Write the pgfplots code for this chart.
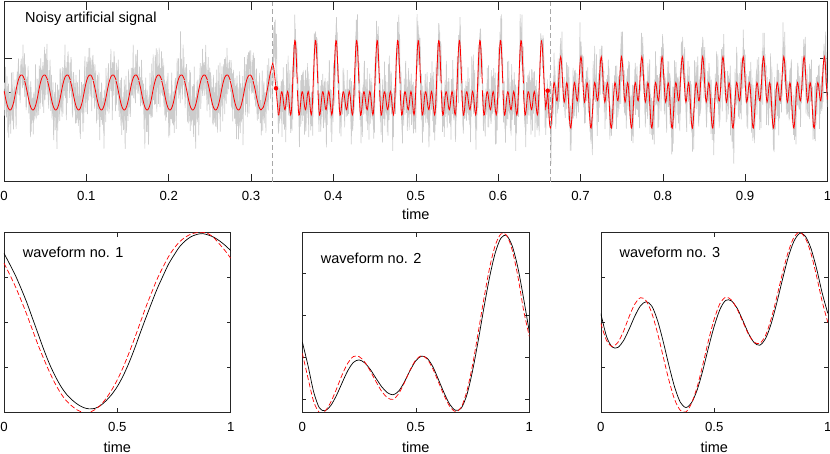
\documentclass[border=0pt]{standalone}
\usepackage{fontspec}
\setmainfont{Liberation Sans}
\usepackage{pgfplots}
\usepackage{pgfplotstable}
\pgfplotsset{compat=1.18}

\pgfplotstableread{
u     b1    r1    b2    r2    b3    r3    n1   n2   n3   n4
0.000 3.54  3.32  1.67  1.40  2.20  1.98   5   -9   12   -3
0.025 3.30  3.07  1.11  0.81  1.69  1.60  -12  14   -5   20
0.050 3.05  2.80  0.48  0.25  1.45  1.46   8   -4  -21  -11
0.075 2.76  2.50  0.10 -0.01  1.44  1.55  17  -18    6    2
0.100 2.45  2.18  0.03  0.02  1.59  1.80  -3   10   15  -24
0.125 2.10  1.84  0.15  0.23  1.85  2.13  -20   3  -10   16
0.150 1.75  1.50  0.39  0.54  2.14  2.41   9   24   -1    7
0.175 1.40  1.19  0.69  0.88  2.37  2.55   2  -13   19   -6
0.200 1.08  0.90  0.98  1.16  2.46  2.48  -14   7  -16   11
0.225 0.81  0.64  1.18  1.32  2.36  2.20  22   -2    8  -17
0.250 0.58  0.42  1.24  1.32  2.04  1.76  -6  -27    3   25
0.275 0.40  0.25  1.17  1.19  1.57  1.23  11   16  -28   -2
0.300 0.27  0.13  1.01  0.97  1.04  0.71  -25   5   13   -9
0.325 0.17  0.04  0.80  0.72  0.56  0.28   4  -10   -7   18
0.350 0.10 -0.01  0.60  0.49  0.22  0.04  13    9   22  -14
0.375 0.07 -0.01  0.46  0.34  0.10  0.00  -8  -21    0    6
0.400 0.08  0.05  0.41  0.30  0.21  0.20   0   13  -12   33
0.425 0.14  0.15  0.50  0.44  0.50  0.57  30   -6    9  -20
0.450 0.25  0.30  0.72  0.70  0.94  1.07  -11   2  -19   10
0.475 0.39  0.49  0.99  1.00  1.45  1.61   6   35   14   -5
0.500 0.57  0.72  1.22  1.24  1.92  2.08  -17 -12    4   -1
0.525 0.80  0.99  1.33  1.34  2.29  2.42  10   -3   -9   15
0.550 1.08  1.30  1.28  1.26  2.49  2.56  -2   18   27  -26
0.575 1.40  1.63  1.08  1.03  2.48  2.50  15  -15   -4    8
0.600 1.75  1.98  0.77  0.71  2.32  2.30  -9    6  -14  -10
0.625 2.09  2.33  0.45  0.39  2.05  2.02  -31  11   10   21
0.650 2.42  2.65  0.18  0.13  1.76  1.74   7   -8   18   -4
0.675 2.74  2.96  0.04  0.01  1.55  1.56  12  -19  -23    3
0.700 3.02  3.22  0.09  0.11  1.49  1.53  -5   21    2  -13
0.725 3.29  3.46  0.41  0.50  1.63  1.70  19   -1   -8   12
0.750 3.50  3.65  0.98  1.12  1.96  2.07  -13   8   16  -29
0.775 3.69  3.80  1.70  1.90  2.43  2.56   3  -24   -3   17
0.800 3.82  3.90  2.48  2.70  2.95  3.09  -22  12    7    1
0.825 3.91  3.97  3.21  3.43  3.44  3.56   8    4  -37   -7
0.850 3.96  4.00  3.79  3.97  3.80  3.89  14  -11   11   23
0.875 3.98  4.01  4.14  4.24  3.98  4.01  -4   17  -13  -16
0.900 3.95  3.98  4.20  4.21  3.93  3.89  -10  -5   20    6
0.925 3.90  3.89  3.95  3.85  3.66  3.55  26  -16    5  -11
0.950 3.82  3.75  3.43  3.22  3.21  3.04  -7    9   -6   14
0.975 3.72  3.60  2.70  2.42  2.66  2.47   1   28  -17   -3
1.000 3.60  3.43  1.91  1.80  2.20  2.00  -15  -7   13    9
}\wave

\definecolor{noisegray}{gray}{0.80}
\definecolor{axgray}{gray}{0.15}
\definecolor{dashgray}{gray}{0.66}

\pgfplotsset{
  mystyle/.style={
    scale only axis,
    axis line style={axgray, line width=0.5pt},
    every tick/.style={axgray, line width=0.5pt},
    tick align=inside,
    xmin=0, xmax=1,
    /pgf/number format/assume math mode=true,
    tick label style={font=\fontsize{13.2}{15}\selectfont},
    label style={font=\fontsize{14.5}{17}\selectfont},
    yticklabel={\phantom{0}},
    clip=true,
  },
  gsig/.style={color=noisegray, line width=0.65pt, mark=none},
  rsig/.style={color=red, line width=0.8pt, mark=none},
}

% segment 1: t0=-0.0026, T=0.02773, a=71.8, s=8.71
\newcommand\GA[3]{%
\addplot[gsig, restrict x to domain=0:0.3252] table[x expr={-0.0026+(#1+\thisrow{u})*0.02773}, y expr={71.8+8.71*\thisrow{b1}+1.2*(#2)}]{\wave};
\addplot[gsig, restrict x to domain=0:0.3252] table[x expr={-0.0026+(#1+\thisrow{u}+0.0125)*0.02773}, y expr={71.8+8.71*\thisrow{b1}+1.2*(#3)}]{\wave};}
\newcommand\RA[1]{\addplot[rsig, restrict x to domain=0:0.3124] table[x expr={-0.0026+(#1+\thisrow{u})*0.02773}, y expr={71.8+8.71*\thisrow{r1}}]{\wave};}
% segment 2: t0=0.33128, T=0.02496, a=66.7, s=17.56
\newcommand\GB[3]{%
\addplot[gsig, restrict x to domain=0.3252:0.6635] table[x expr={0.33128+(#1+\thisrow{u})*0.02496}, y expr={66.7+17.56*\thisrow{b2}+1.2*(#2)}]{\wave};
\addplot[gsig, restrict x to domain=0.3252:0.6635] table[x expr={0.33128+(#1+\thisrow{u}+0.0125)*0.02496}, y expr={66.7+17.56*\thisrow{b2}+1.2*(#3)}]{\wave};}
\newcommand\RB[1]{\addplot[rsig, restrict x to domain=0.3326:0.6530] table[x expr={0.33128+(#1+\thisrow{u})*0.02496}, y expr={66.7+17.56*\thisrow{r2}}]{\wave};}
% segment 3: t0=0.65443, T=0.02463, a=53.6, s=17.8
\newcommand\GC[3]{%
\addplot[gsig, restrict x to domain=0.6635:1] table[x expr={0.65443+(#1+\thisrow{u})*0.02463}, y expr={53.6+17.8*\thisrow{b3}+1.2*(#2)}]{\wave};
\addplot[gsig, restrict x to domain=0.6635:1] table[x expr={0.65443+(#1+\thisrow{u}+0.0125)*0.02463}, y expr={53.6+17.8*\thisrow{b3}+1.2*(#3)}]{\wave};}
\newcommand\RC[1]{\addplot[rsig, restrict x to domain=0.6603:1] table[x expr={0.65443+(#1+\thisrow{u})*0.02463}, y expr={53.6+17.8*\thisrow{r3}}]{\wave};}

\begin{document}
\begin{tikzpicture}
% ---------------- top axis ----------------
\begin{axis}[mystyle,
  at={(4pt,272.3pt)}, anchor=south west,
  width=823.5pt, height=180pt,
  ymin=0, ymax=180,
  xtick={0,0.1,0.2,0.3,0.4,0.5,0.6,0.7,0.8,0.9,1},
  xticklabels={0,0.1,0.2,0.3,0.4,0.5,0.6,0.7,0.8,0.9,1},
  xticklabel style={yshift=-6.2pt},
  ytick={89.7,123.7},
  major tick length=8pt,
  xlabel={time},
  xlabel style={at={(axis description cs:0.5,0)}, anchor=center, yshift=-32.3pt},
]
% noisy signal
\GA{0}{\thisrow{n1}}{0.7*(\thisrow{n1}+\thisrow{n2})}
\GA{1}{\thisrow{n2}}{0.7*(\thisrow{n3}+\thisrow{n4})}
\GA{2}{\thisrow{n3}}{(-1)*\thisrow{n4}}
\GA{3}{\thisrow{n4}}{0.7*(\thisrow{n2}-\thisrow{n1})}
\GA{4}{(-1)*\thisrow{n2}}{\thisrow{n3}}
\GA{5}{(-1)*\thisrow{n4}}{0.7*(\thisrow{n1}+\thisrow{n3})}
\GA{6}{(-1)*\thisrow{n1}}{0.7*(\thisrow{n2}-\thisrow{n4})}
\GA{7}{(-1)*\thisrow{n3}}{\thisrow{n1}}
\GA{8}{0.7*(\thisrow{n1}-\thisrow{n4})}{(-1)*\thisrow{n2}}
\GA{9}{0.7*(\thisrow{n2}+\thisrow{n3})}{\thisrow{n4}}
\GA{10}{0.7*(\thisrow{n3}-\thisrow{n1})}{0.7*(\thisrow{n4}-\thisrow{n3})}
\GA{11}{0.7*(\thisrow{n4}+\thisrow{n2})}{(-1)*\thisrow{n3}}
\GB{-1}{0.7*(\thisrow{n1}+\thisrow{n3})}{\thisrow{n2}}
\GB{0}{0.7*(\thisrow{n2}-\thisrow{n4})}{(-1)*\thisrow{n1}}
\GB{1}{0.7*(\thisrow{n4}-\thisrow{n3})}{0.7*(\thisrow{n1}+\thisrow{n2})}
\GB{2}{\thisrow{n3}}{(-1)*\thisrow{n4}}
\GB{3}{\thisrow{n1}}{0.7*(\thisrow{n3}+\thisrow{n4})}
\GB{4}{\thisrow{n4}}{(-1)*\thisrow{n2}}
\GB{5}{\thisrow{n2}}{0.7*(\thisrow{n1}-\thisrow{n4})}
\GB{6}{(-1)*\thisrow{n3}}{\thisrow{n4}}
\GB{7}{(-1)*\thisrow{n4}}{0.7*(\thisrow{n2}-\thisrow{n1})}
\GB{8}{(-1)*\thisrow{n2}}{\thisrow{n3}}
\GB{9}{(-1)*\thisrow{n1}}{0.7*(\thisrow{n2}+\thisrow{n3})}
\GB{10}{0.7*(\thisrow{n3}-\thisrow{n1})}{\thisrow{n1}}
\GB{11}{0.7*(\thisrow{n1}-\thisrow{n4})}{(-1)*\thisrow{n3}}
\GB{12}{0.7*(\thisrow{n4}+\thisrow{n2})}{0.7*(\thisrow{n4}-\thisrow{n3})}
\GB{13}{0.7*(\thisrow{n2}+\thisrow{n3})}{\thisrow{n2}}
\GC{0}{(-1)*\thisrow{n4}}{\thisrow{n1}}
\GC{1}{(-1)*\thisrow{n3}}{0.7*(\thisrow{n1}+\thisrow{n2})}
\GC{2}{0.7*(\thisrow{n2}+\thisrow{n3})}{(-1)*\thisrow{n1}}
\GC{3}{\thisrow{n1}}{0.7*(\thisrow{n3}+\thisrow{n4})}
\GC{4}{0.7*(\thisrow{n1}+\thisrow{n3})}{\thisrow{n4}}
\GC{5}{\thisrow{n3}}{(-1)*\thisrow{n2}}
\GC{6}{0.7*(\thisrow{n4}-\thisrow{n3})}{\thisrow{n2}}
\GC{7}{\thisrow{n2}}{0.7*(\thisrow{n2}-\thisrow{n1})}
\GC{8}{(-1)*\thisrow{n1}}{\thisrow{n3}}
\GC{9}{0.7*(\thisrow{n2}-\thisrow{n4})}{(-1)*\thisrow{n4}}
\GC{10}{\thisrow{n4}}{0.7*(\thisrow{n3}-\thisrow{n1})}
\GC{11}{0.7*(\thisrow{n1}-\thisrow{n4})}{(-1)*\thisrow{n3}}
\GC{12}{(-1)*\thisrow{n2}}{0.7*(\thisrow{n1}+\thisrow{n3})}
\GC{13}{0.7*(\thisrow{n4}+\thisrow{n2})}{\thisrow{n1}}
\GC{14}{0.7*(\thisrow{n3}-\thisrow{n1})}{\thisrow{n2}}
% estimated signal
\RA{0}\RA{1}\RA{2}\RA{3}\RA{4}\RA{5}\RA{6}\RA{7}\RA{8}\RA{9}\RA{10}\RA{11}
\addplot[rsig] coordinates {(0.3121,71.7) (0.3150,74.5) (0.3175,82) (0.3200,93) (0.3225,105) (0.3248,114) (0.3263,118.4) (0.3278,113) (0.3292,102) (0.3303,93.4) (0.3315,82) (0.3332,66.5)};
\RB{0}\RB{1}\RB{2}\RB{3}\RB{4}\RB{5}\RB{6}\RB{7}\RB{8}\RB{9}\RB{10}\RB{11}\RB{12}
\addplot[rsig] coordinates {(0.65264,141.2) (0.6535,137) (0.6545,124) (0.6555,105) (0.6565,87) (0.6578,74) (0.6590,80) (0.6602,89) (0.66059,84.9)};
\RC{0}\RC{1}\RC{2}\RC{3}\RC{4}\RC{5}\RC{6}\RC{7}\RC{8}\RC{9}\RC{10}\RC{11}\RC{12}\RC{13}\RC{14}
% change points
\addplot[dashgray, line width=0.6pt, dash pattern=on 5pt off 3pt] coordinates {(0.3252,0) (0.3252,180)};
\addplot[dashgray, line width=0.6pt, dash pattern=on 5pt off 3pt] coordinates {(0.6635,0) (0.6635,180)};
\addplot[only marks, mark=*, mark size=2pt, color=red] coordinates {(0.3303,93.4) (0.6602,91)};
\node[anchor=west, inner sep=0pt, font=\fontsize{14.5}{17}\selectfont] at (rel axis cs:0.0255,0.908) {Noisy artificial signal};
\end{axis}

% ---------------- waveform 1 ----------------
\begin{axis}[mystyle,
  at={(4pt,42pt)}, anchor=south west,
  width=226.7pt, height=179.3pt,
  ymin=0, ymax=4,
  xtick={0,0.5,1}, xticklabels={0,0.5,1},
  xticklabel style={yshift=-7.2pt},
  ytick={1,2,3},
  major tick length=4pt,
  xlabel={time},
  xlabel style={at={(axis description cs:0.5,0)}, anchor=center, yshift=-35pt},
]
\addplot[black, line width=0.7pt, smooth, mark=none] table[x=u, y=b1]{\wave};
\addplot[red, line width=0.7pt, smooth, mark=none, dash pattern=on 5pt off 2.5pt] table[x=u, y=r1]{\wave};
\node[anchor=west, inner sep=0pt, font=\fontsize{14.5}{17}\selectfont] at (rel axis cs:0.0825,0.89) {waveform no. 1};
\end{axis}

% ---------------- waveform 2 ----------------
\begin{axis}[mystyle,
  at={(302.3pt,42pt)}, anchor=south west,
  width=227pt, height=179.3pt,
  ymin=0, ymax=4.27,
  xtick={0,0.5,1}, xticklabels={0,0.5,1},
  xticklabel style={yshift=-7.2pt},
  ytick={0.3,1.3,2.3,3.3},
  major tick length=4pt,
  xlabel={time},
  xlabel style={at={(axis description cs:0.5,0)}, anchor=center, yshift=-35pt},
]
\addplot[black, line width=0.7pt, smooth, mark=none] table[x=u, y=b2]{\wave};
\addplot[red, line width=0.7pt, smooth, mark=none, dash pattern=on 5pt off 2.5pt] table[x=u, y=r2]{\wave};
\node[anchor=west, inner sep=0pt, font=\fontsize{14.5}{17}\selectfont] at (rel axis cs:0.081,0.857) {waveform no. 2};
\end{axis}

% ---------------- waveform 3 ----------------
\begin{axis}[mystyle,
  at={(600.8pt,42pt)}, anchor=south west,
  width=227pt, height=179.3pt,
  ymin=0, ymax=4,
  xtick={0,0.5,1}, xticklabels={0,0.5,1},
  xticklabel style={yshift=-7.2pt},
  ytick={1,2,3},
  major tick length=4pt,
  xlabel={time},
  xlabel style={at={(axis description cs:0.5,0)}, anchor=center, yshift=-35pt},
]
\addplot[black, line width=0.7pt, smooth, mark=none] table[x=u, y=b3]{\wave};
\addplot[red, line width=0.7pt, smooth, mark=none, dash pattern=on 5pt off 2.5pt] table[x=u, y=r3]{\wave};
\node[anchor=west, inner sep=0pt, font=\fontsize{14.5}{17}\selectfont] at (rel axis cs:0.082,0.89) {waveform no. 3};
\end{axis}

\pgfresetboundingbox
\useasboundingbox (0pt,0pt) rectangle (830pt,454pt);
\end{tikzpicture}
\end{document}
